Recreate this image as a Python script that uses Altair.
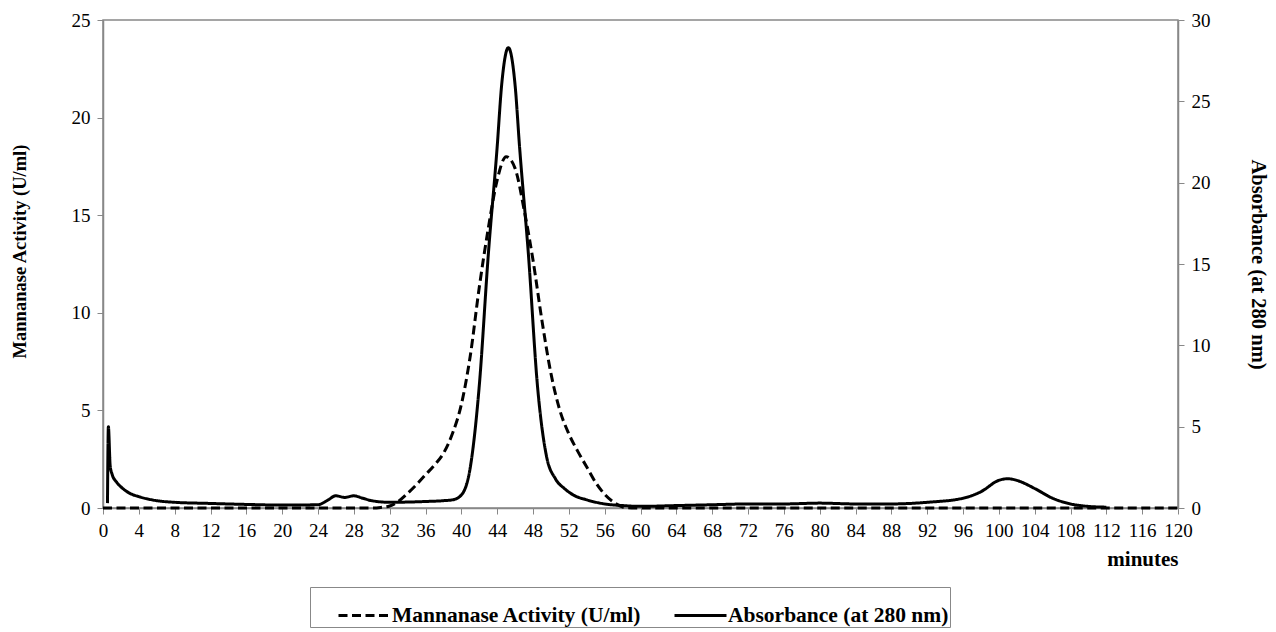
import altair as alt
import pandas as pd

# ---- data ----
series_names = ["Mannanase Activity (U/ml)", "Absorbance (at 280 nm)"]

abs_minutes = [0.5, 0.6, 0.8, 1, 1.5, 2, 3, 4, 6, 8, 12, 16, 20, 24, 25, 26, 27, 28, 29, 30,
               32, 36, 38, 39, 40, 41, 42, 43, 44, 44.5, 45.25, 46, 46.5, 47.5, 48.5, 49.5,
               50.5, 51.5, 52.5, 54, 56, 58, 60, 64, 68, 72, 76, 80, 84, 88, 92, 96, 98, 100,
               101, 102, 104, 106, 108, 110, 112]
absorbance = [0.3, 5.0, 2.6, 2.1, 1.6, 1.3, 0.9, 0.7, 0.45, 0.35, 0.28, 0.22, 0.18, 0.2, 0.45,
              0.75, 0.65, 0.75, 0.6, 0.45, 0.35, 0.4, 0.45, 0.5, 0.8, 2.5, 7.5, 15.5, 22.2,
              26.0, 28.3, 26.0, 22.2, 15.5, 7.5, 3.2, 1.8, 1.2, 0.8, 0.5, 0.25, 0.15, 0.1,
              0.15, 0.2, 0.25, 0.25, 0.3, 0.25, 0.25, 0.35, 0.6, 1.0, 1.7, 1.8, 1.7, 1.2,
              0.6, 0.25, 0.1, 0.05]

act_minutes = [0, 30, 31, 32, 33, 34, 35, 36, 37, 38, 39, 40, 41, 42, 43, 44, 45, 46, 47, 48,
               49, 50, 51, 52, 53, 54, 55, 56, 57, 58, 59, 120]
activity = [0, 0, 0.03, 0.1, 0.35, 0.75, 1.2, 1.7, 2.2, 2.8, 3.8, 5.3, 7.8, 11.3, 14.3, 16.8,
            18.0, 17.4, 15.3, 12.7, 9.6, 6.9, 5.0, 3.8, 2.9, 2.1, 1.3, 0.7, 0.3, 0.05, 0, 0]

x_ticks = list(range(0, 121, 4))
left_ticks = [0, 5, 10, 15, 20, 25]
right_ticks = [0, 5, 10, 15, 20, 25, 30]

act_df = pd.DataFrame({"minutes": act_minutes, "value": activity, "series": series_names[0]})
abs_df = pd.DataFrame({"minutes": abs_minutes, "value": absorbance, "series": series_names[1]})

FONT = "Liberation Serif"

dash_scale = alt.Scale(domain=series_names, range=[[9, 4.5], [1, 0]])
legend = alt.Legend(
    title=None, orient="none", legendX=207, legendY=567, direction="horizontal",
    symbolType="stroke", symbolSize=2704, symbolStrokeWidth=3, symbolStrokeColor="black",
    labelFont=FONT, labelFontWeight="bold", labelFontSize=21.5, labelColor="black",
    labelLimit=600, strokeColor="#888", fillColor="white", padding=1, columnPadding=5,
    labelOffset=0, symbolOffset=26,
)

x_enc = alt.X(
    "minutes:Q",
    scale=alt.Scale(domain=[0, 120], nice=False),
    axis=alt.Axis(values=x_ticks, title="minutes", titleAnchor="end", titlePadding=8,
                  labelOverlap=False, labelFlush=False, labelFontSize=19, titleFontSize=21),
)

act_line = alt.Chart(act_df).mark_line(color="black", strokeWidth=3, interpolate="monotone").encode(
    x=x_enc,
    y=alt.Y("value:Q", scale=alt.Scale(domain=[0, 25]),
            axis=alt.Axis(orient="left", values=left_ticks, title="Mannanase Activity (U/ml)",
                          titlePadding=42, titleFontSize=18.5, titleY=231)),
    strokeDash=alt.StrokeDash("series:N", scale=dash_scale, legend=legend),
)

abs_line = alt.Chart(abs_df).mark_line(color="black", strokeWidth=3, interpolate="monotone").encode(
    x=x_enc,
    y=alt.Y("value:Q", scale=alt.Scale(domain=[0, 30]),
            axis=alt.Axis(orient="right", values=right_ticks, title="Absorbance (at 280 nm)",
                          titlePadding=37, titleFontSize=20.5)),
    strokeDash=alt.StrokeDash("series:N", scale=dash_scale, legend=legend),
)

chart = (
    alt.layer(act_line, abs_line)
    .resolve_scale(y="independent")
    .properties(
        width=1075, height=488,
        autosize=alt.AutoSizeParams(type="none"),
        padding={"left": 95, "top": 12, "right": 90, "bottom": 124},
    )
    .configure_view(stroke="#888", strokeWidth=1.5)
    .configure_axis(
        labelFont=FONT, labelFontSize=19, labelColor="black", labelPadding=7,
        titleFont=FONT, titleFontWeight="bold", titleColor="black",
        domainColor="#888", domainWidth=1.5, tickColor="#888", tickSize=6, grid=False,
    )
)

chart.save("out.html", embed_options={"renderer": "svg", "actions": False})
